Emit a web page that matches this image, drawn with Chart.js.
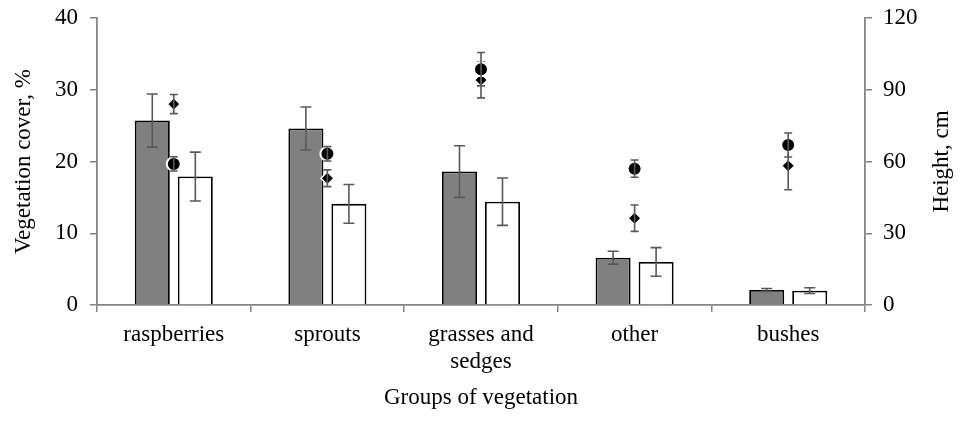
<!DOCTYPE html>
<html>
<head>
<meta charset="utf-8">
<script src="https://cdn.jsdelivr.net/npm/chart.js@4"></script>
<style>
  html, body { margin: 0; padding: 0; background: #fff; }
  #wrap { width: 958px; height: 428px; }
</style>
</head>
<body>
<div id="wrap"><canvas id="chart"></canvas></div>
<script>
// vegetation groups
const groups = ['raspberries', 'sprouts', ['grasses and', 'sedges'], 'other', 'bushes'];

// vegetation cover, % (bars, left axis)
const coverA = [25.7, 24.6, 18.6, 6.6, 2.1];
const coverAErr = [3.7, 3.0, 3.6, 0.9, 0.2];
const coverB = [17.9, 14.1, 14.4, 6.0, 2.0];
const coverBErr = [3.4, 2.7, 3.3, 2.0, 0.4];

// height, cm (points, right axis)
const heightCircle = [59, 63.2, 98.6, 57, 66.9];
const heightCircleErr = [3, 3, 7, 3.6, 5];
const heightDiamond = [84, 53, 94.1, 36.3, 58.2];
const heightDiamondErr = [4, 3.5, 7.5, 5.5, 10];

const leftTicks = [0, 10, 20, 30, 40];
const rightTicks = [0, 30, 60, 90, 120];

const axisGray = '#868686';
const errGray = '#595959';
const serif = "'Liberation Serif', 'Times New Roman', serif";
const fontSize = 23;

// error bars, drawn right after their own dataset so later marks sit on top
const errorBars = {
  id: 'errorBars',
  afterDatasetDraw(chart, args) {
    const ds = chart.data.datasets[args.index];
    if (!ds.errors) return;
    const ctx = chart.ctx;
    const scale = chart.scales[ds.yAxisID];
    ctx.save();
    ctx.strokeStyle = errGray;
    ctx.lineWidth = 1.6;
    args.meta.data.forEach((el, j) => {
      const v = ds.data[j], e = ds.errors[j];
      const x = el.x;
      const top = scale.getPixelForValue(v + e);
      const bot = scale.getPixelForValue(v - e);
      const cap = ds.capWidth / 2;
      ctx.beginPath();
      ctx.moveTo(x, top); ctx.lineTo(x, bot);
      ctx.moveTo(x - cap, top); ctx.lineTo(x + cap, top);
      ctx.moveTo(x - cap, bot); ctx.lineTo(x + cap, bot);
      ctx.stroke();
    });
    ctx.restore();
  }
};

// right axis title reads bottom to top
const rightTitle = {
  id: 'rightTitle',
  afterDraw(chart) {
    const ctx = chart.ctx;
    const a = chart.chartArea;
    ctx.save();
    ctx.translate(942, (a.top + a.bottom) / 2);
    ctx.rotate(-Math.PI / 2);
    ctx.font = fontSize + 'px ' + serif;
    ctx.fillStyle = '#000';
    ctx.textAlign = 'center';
    ctx.textBaseline = 'middle';
    ctx.fillText('Height, cm', 0, 0);
    ctx.restore();
  }
};

function fitSide(width) {
  return s => { s.width = width; s.paddingTop = 0; s.paddingBottom = 0; };
}

new Chart(document.getElementById('chart'), {
  type: 'bar',
  data: {
    labels: groups,
    datasets: [
      {
        type: 'line', label: 'height 1', data: heightCircle, errors: heightCircleErr, capWidth: 8,
        yAxisID: 'y1', showLine: false, pointStyle: 'circle', pointRadius: 7,
        pointBackgroundColor: '#000', pointBorderColor: '#fff', pointBorderWidth: 2, order: 0
      },
      {
        type: 'line', label: 'height 2', data: heightDiamond, errors: heightDiamondErr, capWidth: 8,
        yAxisID: 'y1', showLine: false, pointStyle: 'rectRot', pointRadius: 6.5,
        pointBackgroundColor: '#000', pointBorderColor: '#fff', pointBorderWidth: 1.5, order: 1
      },
      {
        label: 'cover 1', data: coverA, errors: coverAErr, capWidth: 11, yAxisID: 'y',
        backgroundColor: '#808080', borderColor: '#000', borderWidth: 1.8, order: 2
      },
      {
        label: 'cover 2', data: coverB, errors: coverBErr, capWidth: 11, yAxisID: 'y',
        backgroundColor: '#fff', borderColor: '#000', borderWidth: 1.8, order: 3
      }
    ]
  },
  options: {
    responsive: true,
    maintainAspectRatio: false,
    animation: false,
    categoryPercentage: 0.56,
    barPercentage: 0.814,
    layout: { padding: { top: 18, left: 10, right: 0, bottom: 0 } },
    plugins: { legend: { display: false }, tooltip: { enabled: false } },
    scales: {
      x: {
        afterFit: s => { s.height = 123; s.paddingLeft = 0; s.paddingRight = 0; },
        grid: { offset: true, drawOnChartArea: false, color: axisGray, tickLength: 7, lineWidth: 1.5 },
        border: { color: axisGray, width: 1.8 },
        ticks: { color: '#000', font: { family: serif, size: fontSize }, padding: 9, maxRotation: 0 },
        title: { display: true, text: 'Groups of vegetation', color: '#000', font: { family: serif, size: fontSize }, padding: { top: 0, bottom: 16 } }
      },
      y: {
        position: 'left', min: 0, max: 40,
        afterBuildTicks: s => { s.ticks = leftTicks.map(v => ({ value: v })); },
        afterFit: fitSide(87),
        grid: { drawOnChartArea: false, color: axisGray, tickLength: 7, lineWidth: 1.5 },
        border: { color: axisGray, width: 1.8 },
        ticks: { color: '#000', font: { family: serif, size: fontSize }, padding: 12 },
        title: { display: true, text: 'Vegetation cover, %', color: '#000', font: { family: serif, size: fontSize }, padding: 0 }
      },
      y1: {
        position: 'right', min: 0, max: 120,
        afterBuildTicks: s => { s.ticks = rightTicks.map(v => ({ value: v })); },
        afterFit: fitSide(93),
        grid: { drawOnChartArea: false, color: axisGray, tickLength: 7, lineWidth: 1.5 },
        border: { color: axisGray, width: 1.8 },
        ticks: { color: '#000', font: { family: serif, size: fontSize }, padding: 11 }
      }
    }
  },
  plugins: [errorBars, rightTitle]
});
</script>
</body>
</html>
